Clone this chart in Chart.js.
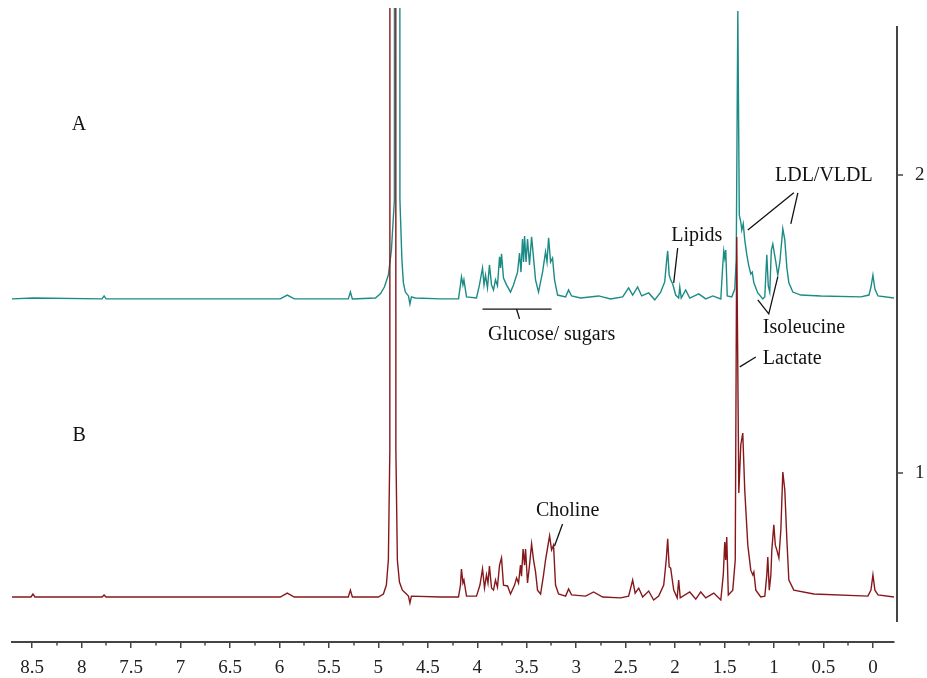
<!doctype html>
<html lang="en">
<head>
<meta charset="utf-8">
<title>1H NMR spectra A / B</title>
<script src="https://cdn.jsdelivr.net/npm/chart.js@4.4.1/dist/chart.umd.min.js"></script>
<style>
  html,body{margin:0;padding:0;background:#fff;}
  #wrap{width:927px;height:678px;}
</style>
</head>
<body>
<div id="wrap"><canvas id="chart" width="927" height="678"></canvas></div>
<script>
/* ─── spectrum A (teal), chemical shift in ppm / intensity ─── */
const ppmA = [8.704,8.492,7.794,7.773,7.753,6.802,5.992,5.921,5.850,5.304,5.283,5.263,5.030,4.980,4.939,4.899,4.868,4.838,4.823,4.798,4.782,4.762,4.747,4.727,4.696,4.681,4.666,4.626,4.372,
  4.190,4.170,4.160,4.145,4.135,4.109,4.008,3.978,3.947,3.932,3.917,3.897,3.877,3.856,3.836,3.816,3.796,3.775,3.765,3.755,3.735,3.704,3.664,3.634,3.593,3.573,3.558,3.543,3.532,3.522,3.507,3.492,3.472,3.451,3.431,3.411,3.381,3.340,3.310,3.295,3.279,3.259,3.239,3.219,3.188,3.107,3.077,3.047,
  2.955,2.773,2.652,2.530,2.470,2.429,2.379,2.338,2.267,2.206,2.146,2.105,2.085,2.075,2.060,2.045,2.024,1.994,1.964,1.953,1.938,1.893,1.852,1.761,1.690,1.619,1.538,1.518,1.508,1.498,1.488,1.473,1.427,
  1.397,1.382,1.366,1.351,1.336,1.326,1.311,1.296,1.275,1.255,1.235,1.220,1.204,1.164,1.113,1.093,1.073,1.058,1.043,1.027,1.012,0.997,0.982,0.962,0.941,0.911,0.891,0.870,0.850,0.810,0.729,0.526,
  0.121,0.040,0.020,0.000,-0.020,-0.051,-0.213];
const intA = [1.584,1.587,1.584,1.594,1.584,1.584,1.584,1.597,1.584,1.584,1.607,1.584,1.587,1.601,1.624,1.664,1.748,1.916,20,20,1.916,1.715,1.638,1.607,1.594,1.567,1.591,1.587,1.584,
  1.584,1.631,1.658,1.631,1.648,1.591,1.587,1.631,1.688,1.631,1.664,1.621,1.698,1.631,1.614,1.648,1.628,1.725,1.688,1.735,1.654,1.631,1.607,1.631,1.674,1.738,1.674,1.785,1.708,1.795,1.708,1.785,1.698,1.792,1.721,1.648,1.607,1.674,1.742,1.708,1.789,1.708,1.721,1.648,1.597,1.591,1.614,1.594,
  1.587,1.594,1.584,1.591,1.621,1.597,1.624,1.594,1.604,1.581,1.607,1.641,1.715,1.745,1.664,1.648,1.634,1.597,1.587,1.624,1.587,1.614,1.587,1.601,1.584,1.594,1.584,1.698,1.745,1.721,1.748,1.594,1.591,
  1.617,1.715,2.550,1.866,1.842,1.815,1.836,1.782,1.732,1.695,1.668,1.674,1.638,1.604,1.584,1.591,1.732,1.628,1.607,1.748,1.768,1.738,1.708,1.664,1.708,1.819,1.782,1.688,1.638,1.607,1.597,1.594,
  1.591,1.597,1.624,1.664,1.617,1.594,1.587];

/* ─── spectrum B (dark red) ─── */
const ppmB = [8.704,8.512,8.492,8.472,7.794,7.773,7.753,6.802,5.992,5.921,5.850,5.304,5.283,5.263,5.000,4.949,4.919,4.899,4.884,4.873,4.838,4.823,4.808,4.787,4.757,4.727,4.696,4.681,4.666,4.372,
  4.190,4.170,4.160,4.145,4.135,4.109,4.008,3.973,3.947,3.927,3.907,3.892,3.877,3.856,3.836,3.816,3.796,3.775,3.755,3.735,3.694,3.664,3.623,3.603,3.583,3.563,3.553,3.537,3.522,3.512,3.492,3.472,3.451,3.431,3.411,3.391,3.360,3.330,3.310,3.290,3.269,3.249,3.229,3.209,3.178,3.107,3.077,3.047,
  2.905,2.824,2.733,2.551,2.470,2.429,2.404,2.368,2.328,2.267,2.217,2.166,2.115,2.090,2.075,2.060,2.045,2.014,1.979,1.964,1.948,1.852,1.791,1.741,1.690,1.609,1.538,1.513,1.498,1.488,1.478,1.462,1.417,
  1.392,1.377,1.356,1.336,1.316,1.296,1.265,1.235,1.215,1.204,1.184,1.134,1.093,1.073,1.063,1.048,1.032,1.022,1.002,0.987,0.972,0.951,0.931,0.911,0.891,0.870,0.850,0.800,0.597,
  0.051,0.020,0.000,-0.020,-0.051,-0.213];
const intB = [0.584,0.584,0.594,0.584,0.584,0.591,0.584,0.584,0.584,0.597,0.584,0.584,0.607,0.584,0.584,0.594,0.624,0.708,1.077,30,30,1.077,0.708,0.634,0.607,0.597,0.587,0.564,0.587,0.584,
  0.584,0.624,0.678,0.631,0.641,0.587,0.587,0.624,0.678,0.614,0.658,0.631,0.688,0.614,0.607,0.641,0.617,0.691,0.715,0.624,0.621,0.594,0.624,0.648,0.631,0.691,0.654,0.745,0.691,0.745,0.631,0.691,0.762,0.708,0.668,0.607,0.594,0.658,0.708,0.748,0.789,0.742,0.758,0.624,0.594,0.587,0.611,0.591,
  0.587,0.601,0.584,0.581,0.587,0.641,0.597,0.614,0.584,0.604,0.574,0.587,0.624,0.708,0.779,0.685,0.681,0.607,0.581,0.641,0.581,0.601,0.577,0.601,0.581,0.597,0.574,0.658,0.768,0.708,0.785,0.591,0.607,
  0.708,1.792,0.933,1.094,1.134,0.943,0.758,0.674,0.658,0.668,0.607,0.584,0.587,0.658,0.718,0.607,0.658,0.742,0.826,0.758,0.742,0.715,0.809,1.003,0.943,0.775,0.641,0.607,0.594,
  0.587,0.607,0.658,0.607,0.591,0.584];

/* ─── axes ─── */
const X_MIN = -0.213, X_MAX = 8.704;
const Y_MIN = 0.433,  Y_MAX = 2.56;
const X_TICKS = [0,0.5,1,1.5,2,2.5,3,3.5,4,4.5,5,5.5,6,6.5,7,7.5,8,8.5];
const X_MINOR = [0.25,0.75,1.25,1.75,2.25,2.75,3.25,3.75,4.25,4.75,5.25,5.75,6.25,6.75,7.25,7.75,8.25];
const Y_TICKS = [1,2];
const Y_AXIS_SPAN = [0.5,2.5];

/* ─── annotations (ppm, intensity) ─── */
const NOTE_TEXT = [
  {text:'A', ppm:8.026, val:2.168},
  {text:'B', ppm:8.026, val:1.124},
  {text:'LDL/VLDL', ppm:0.496, val:1.997},
  {text:'Lipids', ppm:1.781, val:1.795},
  {text:'Glucose/ sugars', ppm:3.249, val:1.463},
  {text:'Isoleucine', ppm:1.113, val:1.487, align:'left'},
  {text:'Lactate', ppm:1.113, val:1.383, align:'left'},
  {text:'Choline', ppm:3.087, val:0.872}
];
const NOTE_LINES = [
  [[3.947,1.550],[3.249,1.550]],
  [[3.603,1.550],[3.573,1.517]],
  [[1.974,1.755],[2.014,1.638]],
  [[0.800,1.940],[1.265,1.815]],
  [[0.759,1.940],[0.830,1.836]],
  [[1.164,1.581],[1.053,1.534],[0.962,1.658]],
  [[1.346,1.356],[1.184,1.389]],
  [[3.219,0.755],[3.138,0.829]]
];

const SERIF = '"Liberation Serif", "DejaVu Serif", serif';
const TEAL = '#1b8b85';
const DARK_RED = '#86181b';
const AXIS = '#444';

const decorPlugin = {
  id:'decor',
  afterDraw(chart){
    const {ctx, chartArea:{right,bottom}, scales:{x,y}} = chart;
    ctx.save();
    ctx.strokeStyle = AXIS;
    // minor ticks on the ppm axis
    ctx.lineWidth = 1.5;
    X_MINOR.forEach(v=>{
      const px = Math.round(x.getPixelForValue(v));
      ctx.beginPath(); ctx.moveTo(px,bottom); ctx.lineTo(px,bottom+3.5); ctx.stroke();
    });
    // right-hand intensity axis
    const ax = right + 3;
    ctx.lineWidth = 2;
    ctx.beginPath();
    ctx.moveTo(ax, y.getPixelForValue(Y_AXIS_SPAN[1]));
    ctx.lineTo(ax, y.getPixelForValue(Y_AXIS_SPAN[0]));
    ctx.stroke();
    ctx.lineWidth = 1.5;
    Y_TICKS.forEach(v=>{
      const py = Math.round(y.getPixelForValue(v));
      ctx.beginPath(); ctx.moveTo(ax,py); ctx.lineTo(ax+6,py); ctx.stroke();
    });
    // labels + leader lines
    ctx.strokeStyle = '#111';
    ctx.lineWidth = 1.3;
    NOTE_LINES.forEach(pts=>{
      ctx.beginPath();
      pts.forEach(([p,v],i)=>{
        const px = x.getPixelForValue(p), py = y.getPixelForValue(v);
        i ? ctx.lineTo(px,py) : ctx.moveTo(px,py);
      });
      ctx.stroke();
    });
    ctx.fillStyle = '#111';
    ctx.font = '20px ' + SERIF;
    ctx.textBaseline = 'middle';
    NOTE_TEXT.forEach(t=>{
      ctx.textAlign = t.align || 'center';
      ctx.fillText(t.text, x.getPixelForValue(t.ppm), y.getPixelForValue(t.val));
    });
    ctx.restore();
  }
};

const toPts = (xs,ys)=>xs.map((p,i)=>({x:p,y:ys[i]}));

new Chart(document.getElementById('chart'),{
  type:'line',
  data:{datasets:[
    {label:'B', data:toPts(ppmB,intB), borderColor:DARK_RED, borderWidth:1.4, order:0},
    {label:'A', data:toPts(ppmA,intA), borderColor:TEAL, borderWidth:1.4, order:1}
  ]},
  options:{
    responsive:false, animation:false,
    layout:{padding:{top:8,left:12,right:0,bottom:0}},
    elements:{point:{radius:0}, line:{tension:0, fill:false}},
    plugins:{legend:{display:false}, tooltip:{enabled:false}},
    scales:{
      x:{
        type:'linear', reverse:true, min:X_MIN, max:X_MAX,
        afterBuildTicks:s=>{ s.ticks = X_TICKS.map(v=>({value:v})); },
        afterFit:s=>{ s.height = 36; s.paddingLeft = 0; s.paddingRight = 0; },
        border:{display:true, color:AXIS, width:2},
        grid:{display:true, drawOnChartArea:false, drawTicks:true, tickLength:6, color:AXIS, lineWidth:1.5},
        ticks:{font:{family:SERIF,size:19}, color:'#222', padding:9, maxRotation:0, autoSkip:false, callback:v=>String(v)}
      },
      y:{
        type:'linear', position:'right', min:Y_MIN, max:Y_MAX,
        afterBuildTicks:s=>{ s.ticks = Y_TICKS.map(v=>({value:v})); },
        afterFit:s=>{ s.width = 33; s.paddingTop = 0; s.paddingBottom = 0; },
        border:{display:false}, grid:{display:false, drawTicks:false},
        ticks:{font:{family:SERIF,size:19}, color:'#222', padding:21}
      }
    }
  },
  plugins:[decorPlugin]
});
</script>
</body>
</html>
